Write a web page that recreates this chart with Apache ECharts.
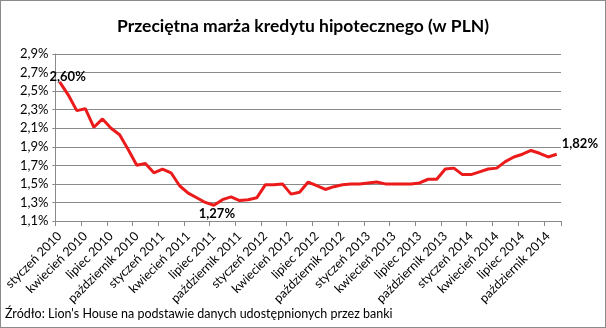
<!DOCTYPE html>
<html>
<head>
<meta charset="utf-8">
<script src="https://cdn.jsdelivr.net/npm/echarts@6/dist/echarts.min.js"></script>
<style>
  html, body { margin: 0; padding: 0; background: #fff; }
  #chart { width: 606px; height: 328px; box-sizing: border-box; border: 1px solid #8a8a8a; }
</style>
</head>
<body>
<div id="chart"></div>
<script>
// Polish month names and the years covered (January 2010 – November 2014)
const monthNames = ['styczeń', 'luty', 'marzec', 'kwiecień', 'maj', 'czerwiec',
  'lipiec', 'sierpień', 'wrzesień', 'październik', 'listopad', 'grudzień'];
const years = [2010, 2011, 2012, 2013, 2014];
const monthCount = 59;

// Average mortgage margin, % (monthly)
const margin = [
  2.60, 2.46, 2.29, 2.31, 2.11, 2.20, 2.10, 2.03, 1.87, 1.70, 1.72, 1.62,
  1.66, 1.62, 1.48, 1.40, 1.35, 1.30, 1.27, 1.33, 1.36, 1.32, 1.33, 1.35,
  1.49, 1.49, 1.50, 1.39, 1.41, 1.52, 1.48, 1.44, 1.47, 1.49, 1.50, 1.50,
  1.51, 1.52, 1.50, 1.50, 1.50, 1.50, 1.51, 1.55, 1.55, 1.66, 1.67, 1.60,
  1.60, 1.63, 1.66, 1.67, 1.74, 1.79, 1.82, 1.86, 1.83, 1.79, 1.82
];

// Value axis range and step
const yMin = 1.1;
const yMax = 2.9;
const yStep = 0.2;

// Points that carry a value label
const labelledIdx = [0, 18, 58];

const categories = [];
for (const y of years) {
  for (const m of monthNames) {
    if (categories.length < monthCount) categories.push(m + ' ' + y);
  }
}

const fmtPct = v => v.toFixed(2).replace('.', ',') + '%';
const labelPlacement = {
  0:  { position: 'top', distance: 0, offset: [8, 1] },
  18: { position: 'bottom', distance: 0, offset: [3, 2] },
  58: { position: 'right', distance: 5, offset: [0, -10] }
};

const seriesData = margin.map((v, i) => {
  if (labelledIdx.indexOf(i) < 0) return v;
  return {
    value: v,
    label: Object.assign({
      show: true,
      formatter: p => fmtPct(p.value),
      fontFamily: 'Lato',
      fontWeight: 'bold',
      fontSize: 13,
      color: '#000'
    }, labelPlacement[i])
  };
});

const chart = echarts.init(document.getElementById('chart'), null, { renderer: 'canvas' });
chart.setOption({
  animation: false,
  backgroundColor: '#fff',
  textStyle: { fontFamily: 'Lato' },
  title: {
    text: 'Przeciętna marża kredytu hipotecznego (w PLN)',
    left: 'center',
    top: 11,
    textStyle: { fontFamily: 'Lato', fontWeight: 'bold', fontSize: 17.5, color: '#000' }
  },
  graphic: [{
    type: 'text',
    left: 4,
    top: 306,
    style: {
      text: 'Źródło: Lion\'s House na podstawie danych udostępnionych przez banki',
      fontFamily: 'Lato',
      fontSize: 12.5,
      fill: '#000'
    }
  }],
  grid: { left: 52, right: 44, top: 53, bottom: 106, containLabel: false },
  xAxis: {
    type: 'category',
    data: categories,
    boundaryGap: true,
    axisLine: { lineStyle: { color: '#8a8a8a', width: 1 } },
    axisTick: { show: true, interval: 2, length: 5, lineStyle: { color: '#8a8a8a' } },
    axisLabel: {
      interval: 2,
      rotate: 45,
      margin: 13,
      fontFamily: 'Lato',
      fontSize: 12.5,
      color: '#000'
    },
    splitLine: { show: false }
  },
  yAxis: {
    type: 'value',
    min: yMin,
    max: yMax,
    interval: yStep,
    axisLine: { show: true, lineStyle: { color: '#8a8a8a', width: 1 } },
    axisTick: { show: true, length: 3, lineStyle: { color: '#8a8a8a' } },
    axisLabel: {
      margin: 7,
      fontFamily: 'Lato',
      fontSize: 13,
      color: '#000',
      formatter: v => v.toFixed(1).replace('.', ',') + '%'
    },
    splitLine: { show: true, lineStyle: { color: '#8a8a8a', width: 1 } }
  },
  series: [{
    type: 'line',
    data: seriesData,
    symbol: 'circle',
    symbolSize: 0,
    showSymbol: true,
    showAllSymbol: true,
    lineStyle: { color: '#ec1b1b', width: 3 },
    itemStyle: { color: '#ec1b1b' },
    z: 3
  }]
});
</script>
</body>
</html>
